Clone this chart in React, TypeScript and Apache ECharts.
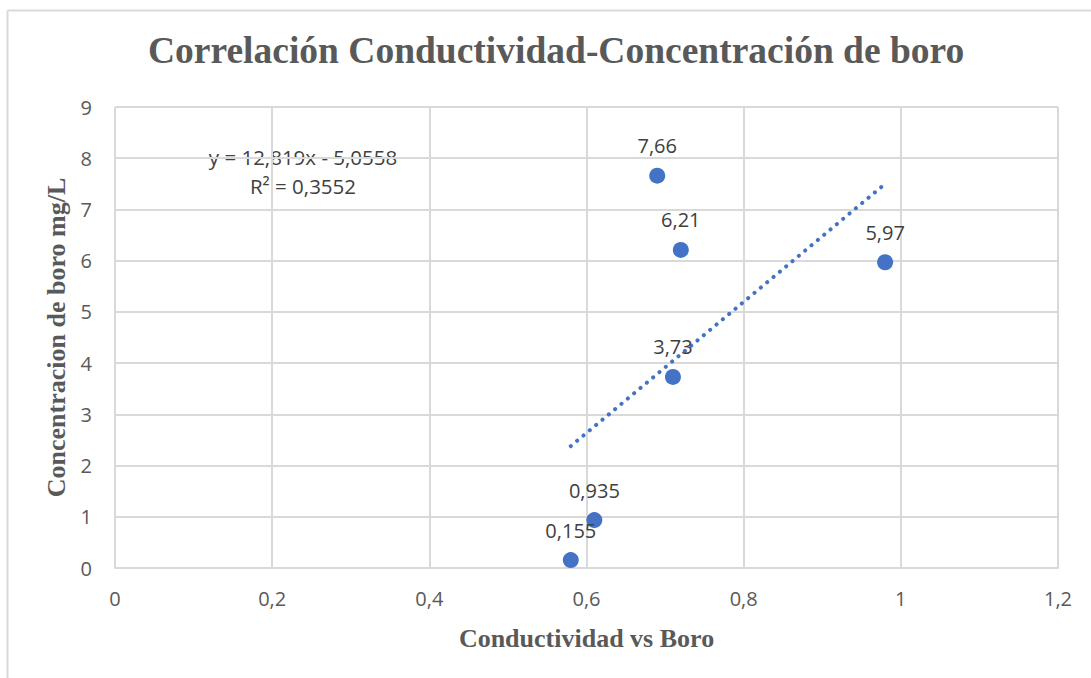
import React, { useEffect, useRef } from "react";
import * as echarts from "echarts";

const titleText = "Correlación Conductividad-Concentración de boro";
const xAxisName = "Conductividad vs Boro";
const yAxisName = "Concentracion de boro mg/L";
const conductividad = [0.58, 0.61, 0.69, 0.72, 0.71, 0.98];
const boro = [0.155, 0.935, 7.66, 6.21, 3.73, 5.97];
const trendX = [0.58, 0.98];
const trendY = [2.38, 7.5];
const equationLines = ["y = 12,819x - 5,0558", "R² = 0,3552"];

const fmt = (v: number) => String(v).replace(".", ",");

export default function App() {
  const ref = useRef<HTMLDivElement>(null);
  useEffect(() => {
    if (!ref.current) return;
    const chart = echarts.init(ref.current, null, { renderer: "svg" });
    const gray = "#595959";
    chart.setOption({
      animation: false,
      backgroundColor: "#ffffff",
      title: {
        text: titleText,
        left: 143,
        top: 26,
        textStyle: {
          fontFamily: "Liberation Serif",
          fontWeight: "bold",
          fontSize: 37.5,
          color: gray,
        },
      },
      grid: { left: 115, right: 33, top: 107, bottom: 110 },
      xAxis: {
        type: "value",
        min: 0,
        max: 1.2,
        interval: 0.2,
        name: xAxisName,
        nameLocation: "middle",
        nameGap: 57,
        nameTextStyle: {
          fontFamily: "Liberation Serif",
          fontWeight: "bold",
          fontSize: 26,
          color: gray,
        },
        axisLine: { show: true, lineStyle: { color: "#d9d9d9", width: 2 } },
        axisTick: { show: false },
        splitLine: { show: true, lineStyle: { color: "#d9d9d9", width: 2 } },
        axisLabel: {
          color: gray,
          fontFamily: "Open Sans",
          fontSize: 20,
          margin: 20,
          formatter: (v: number) => fmt(Math.round(v * 10) / 10),
        },
      },
      yAxis: {
        type: "value",
        min: 0,
        max: 9,
        interval: 1,
        name: yAxisName,
        nameLocation: "middle",
        nameGap: 43,
        nameTextStyle: {
          fontFamily: "Liberation Serif",
          fontWeight: "bold",
          fontSize: 26,
          color: gray,
        },
        axisLine: { show: false },
        axisTick: { show: false },
        splitLine: { show: true, lineStyle: { color: "#d9d9d9", width: 2 } },
        axisLabel: {
          color: gray,
          fontFamily: "Open Sans",
          fontSize: 20,
          margin: 23,
        },
      },
      series: [
        {
          type: "line",
          data: trendX.map((x, i) => [x, trendY[i]]),
          symbol: "none",
          lineStyle: { color: "#4472C4", width: 4, type: [0.1, 8.15], cap: "round" },
          silent: true,
          z: 1,
        },
        {
          type: "scatter",
          data: conductividad.map((x, i) => [x, boro[i]]),
          symbolSize: 16,
          itemStyle: { color: "#4472C4", opacity: 1 },
          label: {
            show: true,
            position: "top",
            distance: 12,
            color: "#404040",
            fontFamily: "Open Sans",
            fontSize: 20,
            formatter: (p: any) => fmt(p.value[1]),
          },
          z: 3,
        },
      ],
      graphic: [
        {
          type: "line",
          shape: { x1: 7.5, y1: 10.5, x2: 1091, y2: 10.5 },
          style: { stroke: "#d9d9d9", lineWidth: 2 },
        },
        {
          type: "line",
          shape: { x1: 7.5, y1: 10.5, x2: 7.5, y2: 678 },
          style: { stroke: "#d9d9d9", lineWidth: 2 },
        },
        {
          type: "text",
          x: 303,
          y: 157,
          style: {
            text: equationLines[0],
            fill: "#404040",
            font: '20.5px "Open Sans"',
            textAlign: "center",
            textVerticalAlign: "middle",
          },
        },
        {
          type: "text",
          x: 303,
          y: 186,
          style: {
            text: equationLines[1],
            fill: "#404040",
            font: '20.5px "Open Sans"',
            textAlign: "center",
            textVerticalAlign: "middle",
          },
        },
      ],
    });
    return () => chart.dispose();
  }, []);
  return (
    <div
      ref={ref}
      style={{ position: "fixed", left: 0, top: 0, width: 1091, height: 678 }}
    />
  );
}
